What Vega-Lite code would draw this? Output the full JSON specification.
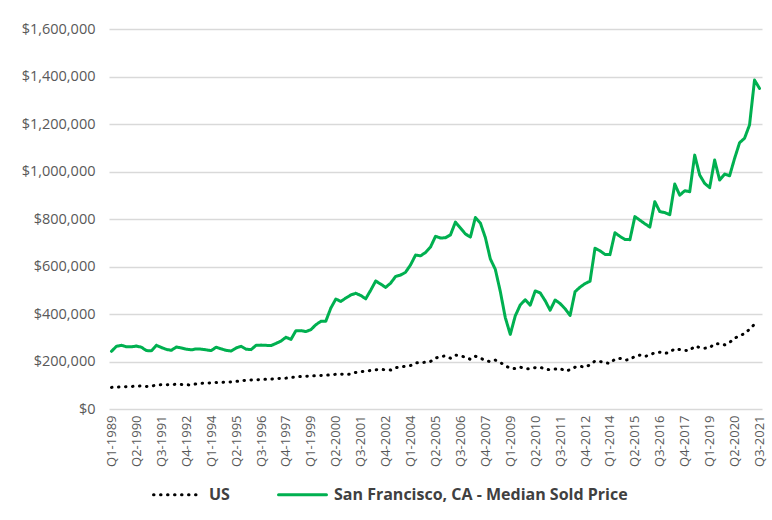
{
  "$schema": "https://vega.github.io/schema/vega-lite/v6.json",
  "autosize": "none",
  "width": 653,
  "height": 380,
  "padding": {"left": 109, "top": 29, "right": 10, "bottom": 111},
  "background": "white",
  "config": {
    "view": {"stroke": null},
    "font": "Open Sans"
  },
  "data": {
    "values": [
      {"q":"Q1-1989","US":91000,"San Francisco, CA - Median Sold Price":243000},
      {"q":"Q2-1989","US":92000,"San Francisco, CA - Median Sold Price":264000},
      {"q":"Q3-1989","US":93000,"San Francisco, CA - Median Sold Price":268000},
      {"q":"Q4-1989","US":94000,"San Francisco, CA - Median Sold Price":262000},
      {"q":"Q1-1990","US":95000,"San Francisco, CA - Median Sold Price":262000},
      {"q":"Q2-1990","US":96000,"San Francisco, CA - Median Sold Price":265000},
      {"q":"Q3-1990","US":97000,"San Francisco, CA - Median Sold Price":260000},
      {"q":"Q4-1990","US":95000,"San Francisco, CA - Median Sold Price":246000},
      {"q":"Q1-1991","US":96000,"San Francisco, CA - Median Sold Price":245000},
      {"q":"Q2-1991","US":101000,"San Francisco, CA - Median Sold Price":268000},
      {"q":"Q3-1991","US":102000,"San Francisco, CA - Median Sold Price":259000},
      {"q":"Q4-1991","US":102000,"San Francisco, CA - Median Sold Price":251000},
      {"q":"Q1-1992","US":103000,"San Francisco, CA - Median Sold Price":247000},
      {"q":"Q2-1992","US":104000,"San Francisco, CA - Median Sold Price":261000},
      {"q":"Q3-1992","US":103000,"San Francisco, CA - Median Sold Price":257000},
      {"q":"Q4-1992","US":102000,"San Francisco, CA - Median Sold Price":252000},
      {"q":"Q1-1993","US":101000,"San Francisco, CA - Median Sold Price":249000},
      {"q":"Q2-1993","US":106000,"San Francisco, CA - Median Sold Price":253000},
      {"q":"Q3-1993","US":108000,"San Francisco, CA - Median Sold Price":252000},
      {"q":"Q4-1993","US":109000,"San Francisco, CA - Median Sold Price":249000},
      {"q":"Q1-1994","US":110000,"San Francisco, CA - Median Sold Price":246000},
      {"q":"Q2-1994","US":112000,"San Francisco, CA - Median Sold Price":260000},
      {"q":"Q3-1994","US":112000,"San Francisco, CA - Median Sold Price":253000},
      {"q":"Q4-1994","US":113000,"San Francisco, CA - Median Sold Price":247000},
      {"q":"Q1-1995","US":114000,"San Francisco, CA - Median Sold Price":244000},
      {"q":"Q2-1995","US":116000,"San Francisco, CA - Median Sold Price":257000},
      {"q":"Q3-1995","US":119000,"San Francisco, CA - Median Sold Price":264000},
      {"q":"Q4-1995","US":121000,"San Francisco, CA - Median Sold Price":252000},
      {"q":"Q1-1996","US":122000,"San Francisco, CA - Median Sold Price":250000},
      {"q":"Q2-1996","US":123000,"San Francisco, CA - Median Sold Price":268000},
      {"q":"Q3-1996","US":124000,"San Francisco, CA - Median Sold Price":269000},
      {"q":"Q4-1996","US":125000,"San Francisco, CA - Median Sold Price":268000},
      {"q":"Q1-1997","US":126000,"San Francisco, CA - Median Sold Price":267000},
      {"q":"Q2-1997","US":128000,"San Francisco, CA - Median Sold Price":276000},
      {"q":"Q3-1997","US":129000,"San Francisco, CA - Median Sold Price":286000},
      {"q":"Q4-1997","US":130000,"San Francisco, CA - Median Sold Price":302000},
      {"q":"Q1-1998","US":133000,"San Francisco, CA - Median Sold Price":293000},
      {"q":"Q2-1998","US":135000,"San Francisco, CA - Median Sold Price":330000},
      {"q":"Q3-1998","US":137000,"San Francisco, CA - Median Sold Price":330000},
      {"q":"Q4-1998","US":138000,"San Francisco, CA - Median Sold Price":326000},
      {"q":"Q1-1999","US":139000,"San Francisco, CA - Median Sold Price":334000},
      {"q":"Q2-1999","US":140000,"San Francisco, CA - Median Sold Price":355000},
      {"q":"Q3-1999","US":141000,"San Francisco, CA - Median Sold Price":369000},
      {"q":"Q4-1999","US":142000,"San Francisco, CA - Median Sold Price":370000},
      {"q":"Q1-2000","US":144000,"San Francisco, CA - Median Sold Price":425000},
      {"q":"Q2-2000","US":146000,"San Francisco, CA - Median Sold Price":463000},
      {"q":"Q3-2000","US":147000,"San Francisco, CA - Median Sold Price":453000},
      {"q":"Q4-2000","US":145000,"San Francisco, CA - Median Sold Price":467000},
      {"q":"Q1-2001","US":147000,"San Francisco, CA - Median Sold Price":480000},
      {"q":"Q2-2001","US":154000,"San Francisco, CA - Median Sold Price":487000},
      {"q":"Q3-2001","US":157000,"San Francisco, CA - Median Sold Price":478000},
      {"q":"Q4-2001","US":160000,"San Francisco, CA - Median Sold Price":464000},
      {"q":"Q1-2002","US":162000,"San Francisco, CA - Median Sold Price":500000},
      {"q":"Q2-2002","US":165000,"San Francisco, CA - Median Sold Price":539000},
      {"q":"Q3-2002","US":167000,"San Francisco, CA - Median Sold Price":526000},
      {"q":"Q4-2002","US":165000,"San Francisco, CA - Median Sold Price":512000},
      {"q":"Q1-2003","US":164000,"San Francisco, CA - Median Sold Price":530000},
      {"q":"Q2-2003","US":174000,"San Francisco, CA - Median Sold Price":558000},
      {"q":"Q3-2003","US":177000,"San Francisco, CA - Median Sold Price":564000},
      {"q":"Q4-2003","US":180000,"San Francisco, CA - Median Sold Price":576000},
      {"q":"Q1-2004","US":183000,"San Francisco, CA - Median Sold Price":607000},
      {"q":"Q2-2004","US":194000,"San Francisco, CA - Median Sold Price":648000},
      {"q":"Q3-2004","US":195000,"San Francisco, CA - Median Sold Price":645000},
      {"q":"Q4-2004","US":197000,"San Francisco, CA - Median Sold Price":659000},
      {"q":"Q1-2005","US":200000,"San Francisco, CA - Median Sold Price":682000},
      {"q":"Q2-2005","US":214000,"San Francisco, CA - Median Sold Price":727000},
      {"q":"Q3-2005","US":222000,"San Francisco, CA - Median Sold Price":720000},
      {"q":"Q4-2005","US":223000,"San Francisco, CA - Median Sold Price":721000},
      {"q":"Q1-2006","US":214000,"San Francisco, CA - Median Sold Price":733000},
      {"q":"Q2-2006","US":227000,"San Francisco, CA - Median Sold Price":787000},
      {"q":"Q3-2006","US":223000,"San Francisco, CA - Median Sold Price":762000},
      {"q":"Q4-2006","US":219000,"San Francisco, CA - Median Sold Price":737000},
      {"q":"Q1-2007","US":209000,"San Francisco, CA - Median Sold Price":724000},
      {"q":"Q2-2007","US":222000,"San Francisco, CA - Median Sold Price":806000},
      {"q":"Q3-2007","US":214000,"San Francisco, CA - Median Sold Price":783000},
      {"q":"Q4-2007","US":205000,"San Francisco, CA - Median Sold Price":722000},
      {"q":"Q1-2008","US":199000,"San Francisco, CA - Median Sold Price":632000},
      {"q":"Q2-2008","US":206000,"San Francisco, CA - Median Sold Price":588000},
      {"q":"Q3-2008","US":196000,"San Francisco, CA - Median Sold Price":495000},
      {"q":"Q4-2008","US":182000,"San Francisco, CA - Median Sold Price":385000},
      {"q":"Q1-2009","US":172000,"San Francisco, CA - Median Sold Price":314000},
      {"q":"Q2-2009","US":170000,"San Francisco, CA - Median Sold Price":392000},
      {"q":"Q3-2009","US":176000,"San Francisco, CA - Median Sold Price":438000},
      {"q":"Q4-2009","US":170000,"San Francisco, CA - Median Sold Price":460000},
      {"q":"Q1-2010","US":170000,"San Francisco, CA - Median Sold Price":437000},
      {"q":"Q2-2010","US":174000,"San Francisco, CA - Median Sold Price":497000},
      {"q":"Q3-2010","US":176000,"San Francisco, CA - Median Sold Price":489000},
      {"q":"Q4-2010","US":168000,"San Francisco, CA - Median Sold Price":456000},
      {"q":"Q1-2011","US":165000,"San Francisco, CA - Median Sold Price":416000},
      {"q":"Q2-2011","US":168000,"San Francisco, CA - Median Sold Price":459000},
      {"q":"Q3-2011","US":171000,"San Francisco, CA - Median Sold Price":444000},
      {"q":"Q4-2011","US":160000,"San Francisco, CA - Median Sold Price":422000},
      {"q":"Q1-2012","US":165000,"San Francisco, CA - Median Sold Price":394000},
      {"q":"Q2-2012","US":176000,"San Francisco, CA - Median Sold Price":494000},
      {"q":"Q3-2012","US":180000,"San Francisco, CA - Median Sold Price":513000},
      {"q":"Q4-2012","US":176000,"San Francisco, CA - Median Sold Price":528000},
      {"q":"Q1-2013","US":186000,"San Francisco, CA - Median Sold Price":538000},
      {"q":"Q2-2013","US":202000,"San Francisco, CA - Median Sold Price":677000},
      {"q":"Q3-2013","US":200000,"San Francisco, CA - Median Sold Price":666000},
      {"q":"Q4-2013","US":195000,"San Francisco, CA - Median Sold Price":651000},
      {"q":"Q1-2014","US":192000,"San Francisco, CA - Median Sold Price":650000},
      {"q":"Q2-2014","US":210000,"San Francisco, CA - Median Sold Price":742000},
      {"q":"Q3-2014","US":213000,"San Francisco, CA - Median Sold Price":727000},
      {"q":"Q4-2014","US":206000,"San Francisco, CA - Median Sold Price":714000},
      {"q":"Q1-2015","US":208000,"San Francisco, CA - Median Sold Price":713000},
      {"q":"Q2-2015","US":222000,"San Francisco, CA - Median Sold Price":810000},
      {"q":"Q3-2015","US":227000,"San Francisco, CA - Median Sold Price":795000},
      {"q":"Q4-2015","US":221000,"San Francisco, CA - Median Sold Price":780000},
      {"q":"Q1-2016","US":228000,"San Francisco, CA - Median Sold Price":766000},
      {"q":"Q2-2016","US":237000,"San Francisco, CA - Median Sold Price":873000},
      {"q":"Q3-2016","US":239000,"San Francisco, CA - Median Sold Price":831000},
      {"q":"Q4-2016","US":234000,"San Francisco, CA - Median Sold Price":827000},
      {"q":"Q1-2017","US":239000,"San Francisco, CA - Median Sold Price":818000},
      {"q":"Q2-2017","US":254000,"San Francisco, CA - Median Sold Price":947000},
      {"q":"Q3-2017","US":250000,"San Francisco, CA - Median Sold Price":900000},
      {"q":"Q4-2017","US":247000,"San Francisco, CA - Median Sold Price":919000},
      {"q":"Q1-2018","US":246000,"San Francisco, CA - Median Sold Price":915000},
      {"q":"Q2-2018","US":265000,"San Francisco, CA - Median Sold Price":1069000},
      {"q":"Q3-2018","US":259000,"San Francisco, CA - Median Sold Price":985000},
      {"q":"Q4-2018","US":256000,"San Francisco, CA - Median Sold Price":950000},
      {"q":"Q1-2019","US":258000,"San Francisco, CA - Median Sold Price":932000},
      {"q":"Q2-2019","US":275000,"San Francisco, CA - Median Sold Price":1048000},
      {"q":"Q3-2019","US":275000,"San Francisco, CA - Median Sold Price":964000},
      {"q":"Q4-2019","US":270000,"San Francisco, CA - Median Sold Price":989000},
      {"q":"Q1-2020","US":280000,"San Francisco, CA - Median Sold Price":982000},
      {"q":"Q2-2020","US":298000,"San Francisco, CA - Median Sold Price":1055000},
      {"q":"Q3-2020","US":309000,"San Francisco, CA - Median Sold Price":1121000},
      {"q":"Q4-2020","US":317000,"San Francisco, CA - Median Sold Price":1140000},
      {"q":"Q1-2021","US":336000,"San Francisco, CA - Median Sold Price":1196000},
      {"q":"Q2-2021","US":357000,"San Francisco, CA - Median Sold Price":1385000},
      {"q":"Q3-2021","US":null,"San Francisco, CA - Median Sold Price":1350000}
    ]
  },
  "transform": [
    {"fold": ["US", "San Francisco, CA - Median Sold Price"], "as": ["series", "value"]},
    {"filter": "datum.value != null"}
  ],
  "mark": {"type": "line", "strokeWidth": 3, "strokeCap": "round", "strokeJoin": "round"},
  "encoding": {
    "x": {
      "field": "q",
      "type": "ordinal",
      "sort": null,
      "scale": {"type": "point", "padding": 0.5},
      "axis": {
        "title": null,
        "values": ["Q1-1989","Q2-1990","Q3-1991","Q4-1992","Q1-1994","Q2-1995","Q3-1996","Q4-1997","Q1-1999","Q2-2000","Q3-2001","Q4-2002","Q1-2004","Q2-2005","Q3-2006","Q4-2007","Q1-2009","Q2-2010","Q3-2011","Q4-2012","Q1-2014","Q2-2015","Q3-2016","Q4-2017","Q1-2019","Q2-2020","Q3-2021"],
        "labelAngle": -90,
        "labelFontSize": 13,
        "labelColor": "#595959",
        "labelPadding": 6,
        "domain": false,
        "ticks": false,
        "grid": false
      }
    },
    "y": {
      "field": "value",
      "type": "quantitative",
      "scale": {"domain": [0, 1600000], "nice": false},
      "axis": {
        "title": null,
        "values": [0,200000,400000,600000,800000,1000000,1200000,1400000,1600000],
        "format": "$,.0f",
        "labelFontSize": 14.5,
        "labelColor": "#595959",
        "labelPadding": 14,
        "domain": false,
        "ticks": false,
        "grid": true,
        "gridColor": "#D9D9D9",
        "gridWidth": 1.3
      }
    },
    "color": {
      "field": "series",
      "type": "nominal",
      "scale": {"domain": ["US", "San Francisco, CA - Median Sold Price"], "range": ["#000000", "#00B050"]},
      "legend": {
        "title": null,
        "orient": "none",
        "direction": "horizontal",
        "legendX": 43,
        "legendY": 440,
        "symbolType": "stroke",
        "symbolSize": 2300,
        "symbolStrokeWidth": 3,
        "labelFontSize": 16,
        "labelFontWeight": "bold",
        "labelColor": "#404040",
        "labelOffset": 6,
        "labelLimit": 0,
        "columnPadding": 42,
        "encode": {"symbols": {"update": {"strokeCap": {"value": "round"}}}}
      }
    },
    "strokeDash": {
      "field": "series",
      "type": "nominal",
      "scale": {"domain": ["US", "San Francisco, CA - Median Sold Price"], "range": [[0.5, 6.5], [1, 0]]},
      "legend": null
    }
  }
}
